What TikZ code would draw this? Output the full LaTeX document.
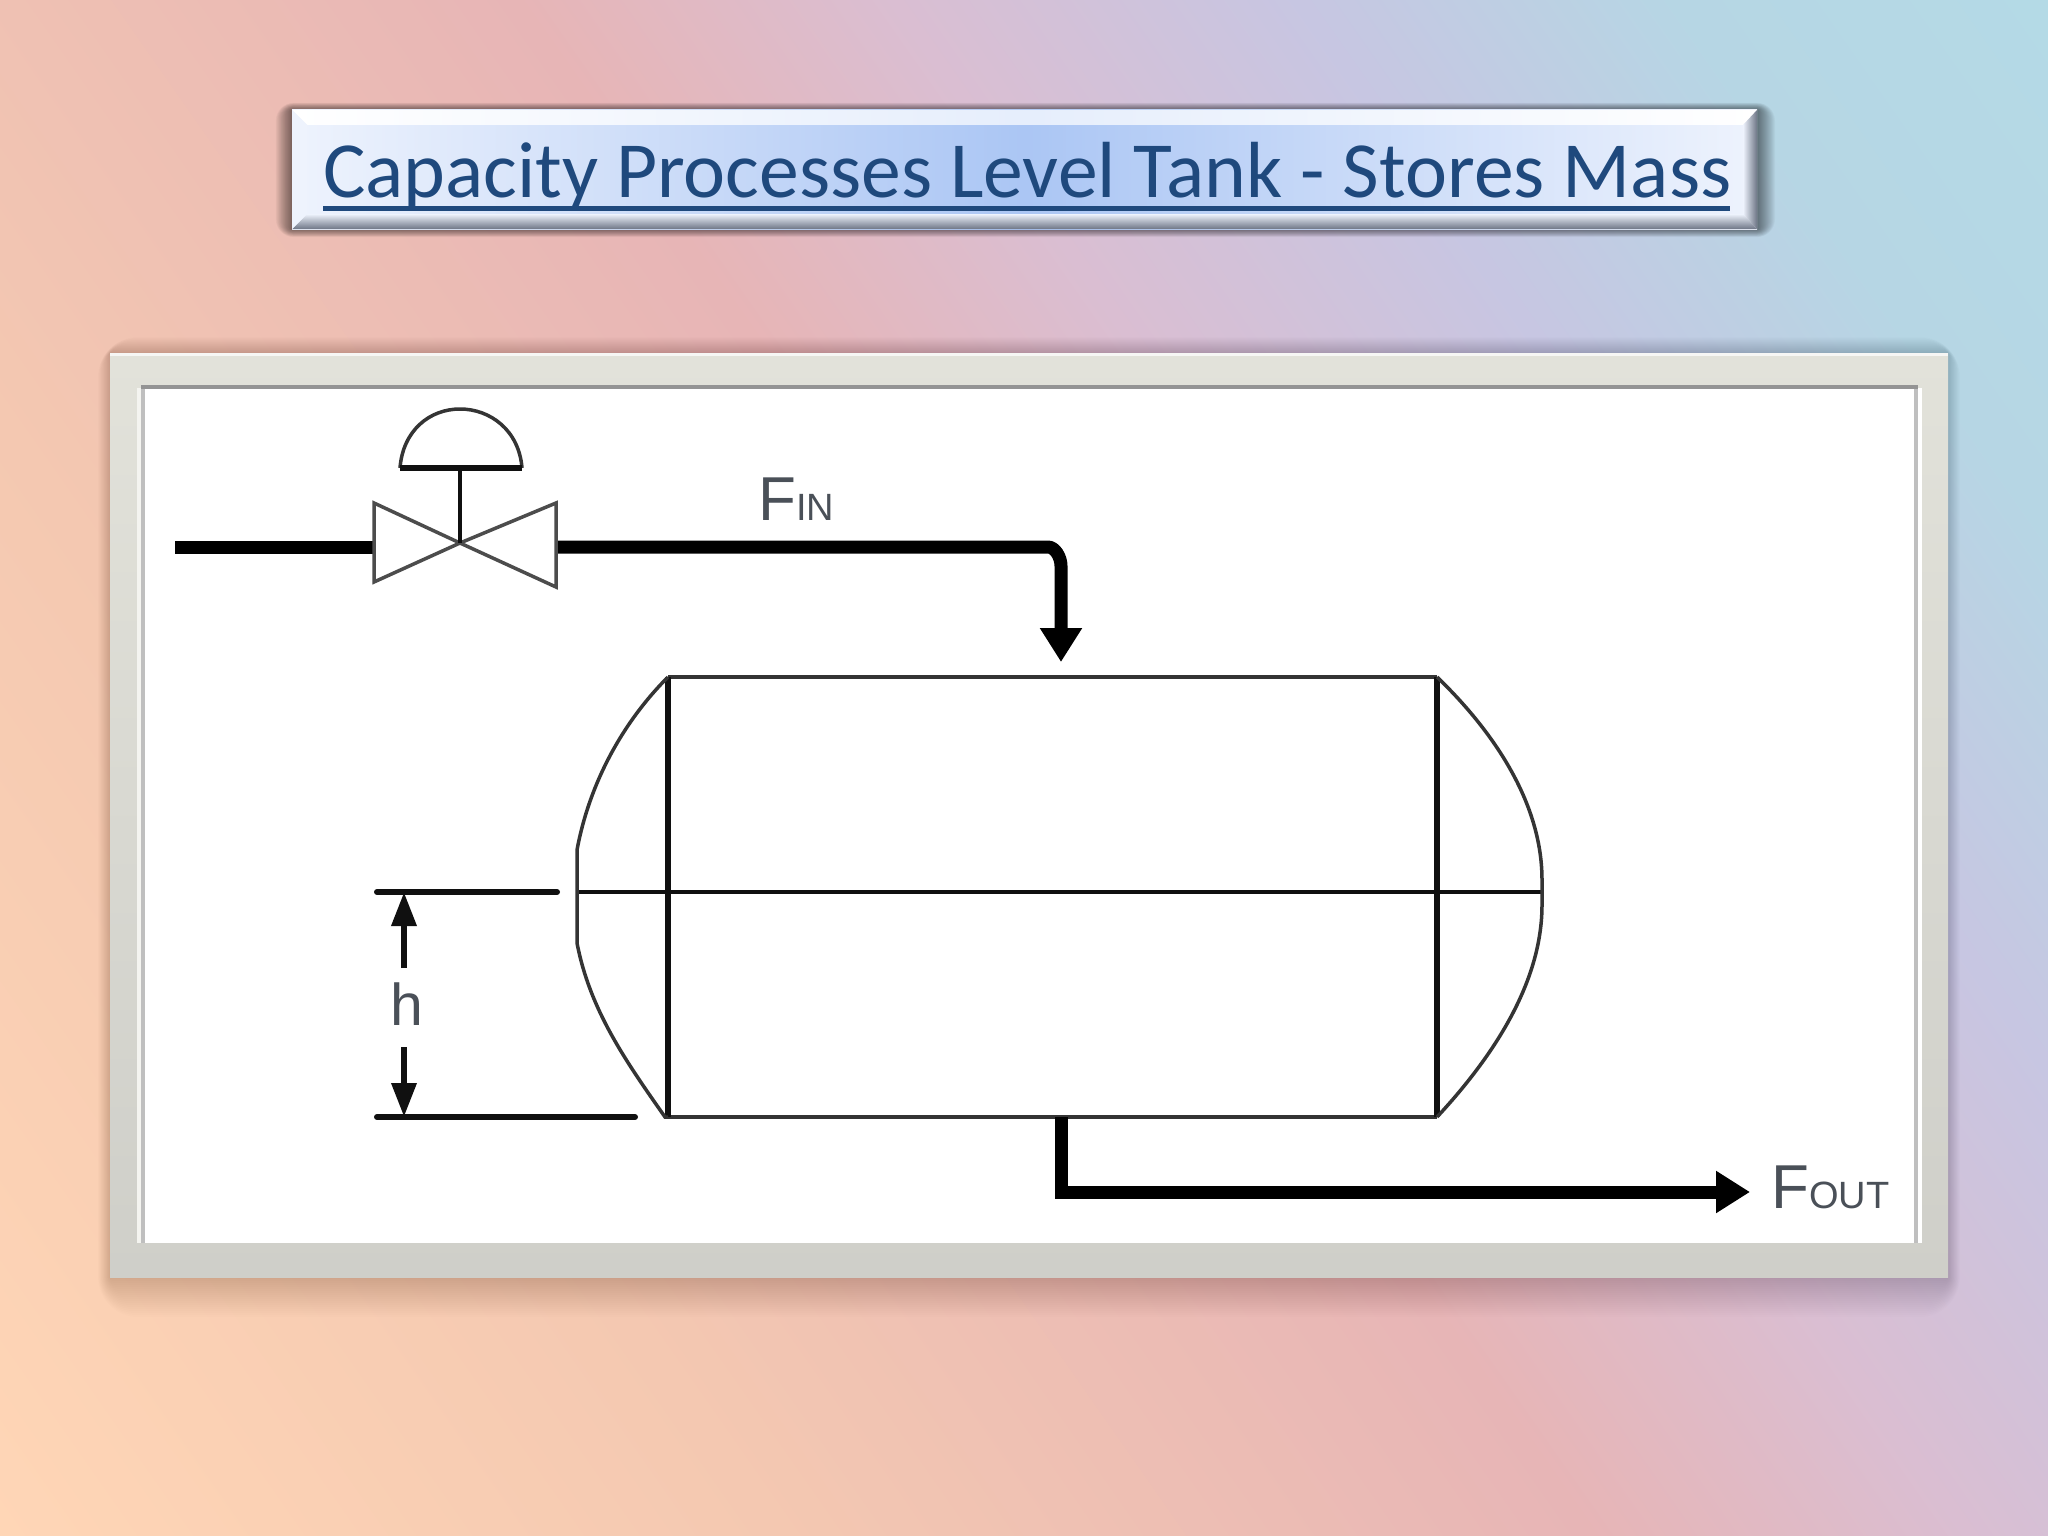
\documentclass[tikz,border=0pt]{standalone}
\usepackage{fontspec}
\setmainfont{Liberation Sans}
\newfontfamily\titlefont{Carlito}
\usetikzlibrary{arrows.meta}
\definecolor{titleblue}{HTML}{1F497D}
\definecolor{frameTop}{HTML}{E2E2DA}
\definecolor{frameBot}{HTML}{CFCFC9}
\definecolor{labelgrey}{HTML}{4A5058}
\definecolor{ink}{HTML}{101010}
\definecolor{pa}{HTML}{FFD6B6}
\definecolor{pb}{HTML}{F4C8B1}
\definecolor{pc}{HTML}{E7B5B6}
\definecolor{pd}{HTML}{DABED2}
\definecolor{pe}{HTML}{C7C6E2}
\definecolor{pf}{HTML}{B6D6E4}
\definecolor{pg}{HTML}{B4DAE6}
\definecolor{plateEdge}{HTML}{EEF3FD}
\definecolor{plateMid}{HTML}{ABC6F4}
\definecolor{bevelDark}{HTML}{6E7686}
\pgfdeclarehorizontalshading{pagebg}{100bp}{
 color(0bp)=(pa);color(25bp)=(pa);color(37.5bp)=(pb);color(50.5bp)=(pc);color(56.5bp)=(pd);color(63bp)=(pe);color(69bp)=(pf);color(75bp)=(pg);color(100bp)=(pg)}
\tikzset{
 x=1pt,y=-1pt,
 pipe/.style={draw=black,line width=13pt},
 pipearrow/.style={pipe,-{Triangle[length=34pt,width=40pt]}},
 dimarrow/.style={draw=ink,line width=6.5pt,-{Triangle[length=34pt,width=24pt]}},
 dimline/.style={draw=ink,line width=6pt,line cap=round},
 vesselline/.style={draw=ink!85!white,line width=4pt},
 vesselbold/.style={draw=ink,line width=5.5pt},
 valveline/.style={draw=ink!75!white,line width=3.5pt,line join=miter},
 flowlabel/.style={anchor=base west,inner sep=0pt,text=labelgrey},
}
\newcommand{\bigF}[1]{{\fontsize{62}{62}\selectfont #1}}
\newcommand{\smallF}[1]{{\fontsize{38}{38}\selectfont #1}}
\begin{document}
\begin{tikzpicture}
\useasboundingbox (0,0) rectangle (2048,1536);
\clip (0,0) rectangle (2048,1536);
% page background
\path[shading=pagebg,transform canvas={shift={(1024,768)},rotate=35}] (-1281,-1600) rectangle (1281,1600);
% soft shadows
\foreach \d in {2,4,...,40}{
 \fill[black,opacity=.009,rounded corners=\d] (110-\d*.3,353-\d*.4) rectangle (1948+\d*.3,1277+\d);
}
\foreach \d in {1,2,...,18}{
 \fill[black,opacity=.03,rounded corners=\d] (292-\d*.9,110-\d*.4) rectangle (1757+\d,229+\d*.45);
}
% title plate
\shade[left color=plateEdge,right color=plateEdge,middle color=plateMid] (292,110) rectangle (1757,229);
\shade[left color=white,right color=white,middle color=plateMid!30!white] (292,110) -- (1757,110) -- (1743,125) -- (307,125) -- cycle;
\shade[top color=plateEdge,bottom color=bevelDark] (292,229) -- (1757,229) -- (1743,214) -- (307,214) -- cycle;
\fill[plateEdge] (292,110) -- (307,125) -- (307,214) -- (292,229) -- cycle;
\shade[left color=plateEdge,right color=bevelDark] (1757,110) -- (1743,125) -- (1743,214) -- (1757,229) -- cycle;
\node[anchor=base west,inner sep=0pt,text=titleblue,font=\titlefont\fontsize{79.6}{80}\selectfont] (title) at (323,197) {Capacity Processes Level Tank - Stores Mass};
\coordinate (ulA) at (323,208);
\coordinate (ulB) at (1730,208);
\draw[titleblue,line width=5pt] (ulA) -- (ulB);
% picture frame
\shade[top color=frameTop,bottom color=frameBot] (110,353) rectangle (1948,1277);
\fill[white!70!frameTop] (110,353) rectangle (1948,356);
\fill[white] (145,388) rectangle (1918,1243);
\fill[black!25] (141,388) rectangle (145,1243);
\fill[white!60!frameTop] (137,388) rectangle (141,1243);
\fill[black!25] (1914,388) rectangle (1918,1243);
\fill[white] (1918,388) rectangle (1922,1243);
\fill[black!42] (141,385) rectangle (1918,389);
% named points
\coordinate (inStart) at (175,547);
\coordinate (valveL) at (374,547);
\coordinate (valveR) at (556,547);
\coordinate (valveC) at (460,543);
\coordinate (bendA) at (1048,547);
\coordinate (bendB) at (1061,566);
\coordinate (inTip) at (1061,662);
\coordinate (tankTL) at (668,677);
\coordinate (tankTR) at (1437,677);
\coordinate (tankBL) at (668,1117);
\coordinate (tankBR) at (1437,1117);
\coordinate (levelL) at (577,892);
\coordinate (levelR) at (1542,892);
\coordinate (outTop) at (1061,1117);
\coordinate (outBend) at (1061,1192);
\coordinate (outTip) at (1750,1192);
% inlet pipe
\draw[pipe] (inStart) -- (valveL);
\draw[pipearrow,line join=round] (valveR) -- (bendA) .. controls (1055,547) and (1061,557) .. (bendB) -- (inTip);
% valve
\draw[valveline] (valveC) -- (374,503) -- (374,582) -- cycle;
\draw[valveline] (valveC) -- (556,503) -- (556,587) -- cycle;
\draw[draw=ink,line width=4pt] (460,468) -- (valveC);
\draw[draw=ink!85!white,line width=3.5pt] (400,468) .. controls (403,430) and (430,409) .. (460,409) .. controls (490,409) and (519,430) .. (522,468);
\draw[draw=ink,line width=6pt] (400,468) -- (522,468);
% tank
\draw[vesselline] (tankTL) -- (tankTR);
\draw[vesselline] (tankBL) -- (tankBR);
\draw[vesselbold] (tankTL) -- (tankBL);
\draw[vesselbold] (tankTR) -- (tankBR);
\draw[vesselbold,line width=4.5pt] (levelL) -- (levelR);
\draw[vesselline,line width=3.5pt] (tankTL) .. controls (625,720) and (590,780) .. (577,850) -- (577,943) .. controls (590,1010) and (625,1060) .. (665,1117) -- (tankBL);
\draw[vesselline,line width=3.5pt] (tankTR) .. controls (1490,728) and (1542,800) .. (1542,880) -- (1542,905) .. controls (1542,985) and (1490,1060) .. (tankBR);
% level dimension
\coordinate (dimTopL) at (377,892);
\coordinate (dimTopR) at (557,892);
\coordinate (dimBotL) at (377,1117);
\coordinate (dimBotR) at (635,1117);
\draw[dimline] (dimTopL) -- (dimTopR);
\draw[dimline] (dimBotL) -- (dimBotR);
\coordinate (dimA) at (404,968);
\coordinate (dimB) at (404,892);
\coordinate (dimC) at (404,1047);
\coordinate (dimD) at (404,1117);
\draw[dimarrow] (dimA) -- (dimB);
\draw[dimarrow] (dimC) -- (dimD);
\node[flowlabel,font=\fontsize{59}{59}\selectfont] (hlabel) at (390,1025) {h};
% outlet pipe
\draw[pipe] (outTop) -- (outBend);
\coordinate (outStart) at (1055,1192);
\draw[pipearrow] (outStart) -- (outTip);
% flow labels
\node[flowlabel] (fin) at (758,520) {\bigF{F}\smallF{IN}};
\node[flowlabel] (fout) at (1771,1208) {\bigF{F}\smallF{OUT}};
\end{tikzpicture}
\end{document}
